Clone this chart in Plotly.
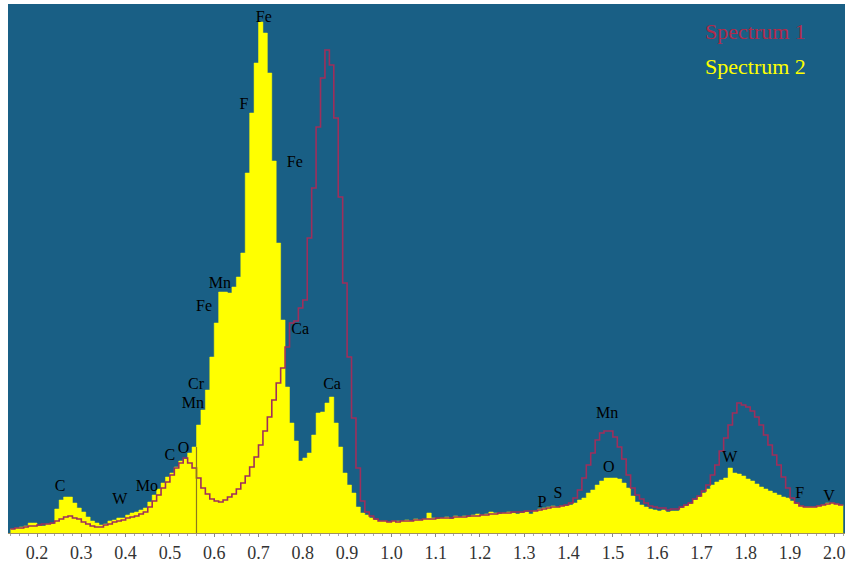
import plotly.graph_objects as go

# Bin left edges (keV), bin width 0.01
bin_start = 0.14
bin_width = 0.01

spectrum2 = [
    4, 5, 6, 7, 10, 10, 7, 7, 9, 9,            # 0.14-0.23
    24, 33, 36, 36, 30, 25, 21, 16, 12, 10,    # 0.24-0.33
    8, 9, 12, 13, 15, 15, 18, 20, 21, 23,      # 0.34-0.43
    25, 31, 38, 44, 50, 56, 60, 66, 72, 74,    # 0.44-0.53
    80, 86, 108, 123, 143, 176, 210, 241, 241, 240,  # 0.54-0.63
    246, 256, 280, 360, 420, 470, 511, 500, 460, 372,  # 0.64-0.73
    290, 213, 146, 110, 92, 72, 75, 80, 98, 120,  # 0.74-0.83
    121, 130, 136, 110, 86, 60, 48, 40, 26, 20,   # 0.84-0.93
    18, 15, 13, 12, 12, 11, 12, 12, 12, 13,       # 0.94-1.03
    12, 14, 13, 14, 20, 15, 14, 15, 16, 14,       # 1.04-1.13
    17, 16, 17, 16, 18, 19, 18, 19, 21, 20,       # 1.14-1.23
    19, 20, 21, 20, 19, 20, 21, 19, 22, 24,       # 1.24-1.33
    25, 26, 27, 26, 27, 27, 28, 30, 33, 35,       # 1.34-1.43
    40, 43, 48, 52, 55, 55, 55, 54, 50, 45,       # 1.44-1.53
    37, 31, 28, 26, 24, 23, 22, 23, 21, 22,       # 1.54-1.63
    22, 25, 27, 29, 33, 36, 40, 44, 48, 51,       # 1.64-1.73
    53, 55, 65, 60, 59, 57, 54, 52, 49, 46,       # 1.74-1.83
    44, 42, 40, 38, 36, 35, 32, 29, 27, 26,       # 1.84-1.93
    26, 26, 27, 28, 30, 30, 29, 28,               # 1.94-2.01
]

spectrum1 = [
    4, 5, 5, 6, 7, 7, 8, 9, 9, 10,             # 0.14-0.23
    12, 14, 16, 17, 15, 14, 11, 9, 7, 6,       # 0.24-0.33
    6, 8, 9, 11, 12, 13, 15, 16, 17, 19,       # 0.34-0.43
    21, 26, 32, 38, 45, 51, 58, 65, 70, 75,    # 0.44-0.53
    70, 65, 55, 45, 39, 34, 32, 31, 33, 36,    # 0.54-0.63
    39, 44, 50, 57, 66, 76, 88, 102, 116, 133, # 0.64-0.73
    150, 165, 186, 210, 212, 225, 233, 295, 345, 406,  # 0.74-0.83
    455, 483, 468, 415, 336, 250, 176, 115, 65, 32,    # 0.84-0.93
    21, 17, 14, 12, 12, 11, 12, 11, 12, 12,       # 0.94-1.03
    12, 13, 13, 14, 14, 14, 15, 15, 15, 15,       # 1.04-1.13
    16, 16, 16, 17, 17, 17, 18, 18, 19, 19,       # 1.14-1.23
    20, 20, 20, 21, 21, 21, 22, 22, 22, 23,       # 1.24-1.33
    24, 25, 26, 26, 27, 28, 30, 35, 43, 55,       # 1.34-1.43
    68, 80, 93, 100, 102, 102, 96, 86, 74, 58,    # 1.44-1.53
    45, 38, 34, 30, 27, 26, 25, 25, 23, 24,       # 1.54-1.63
    24, 26, 28, 30, 34, 37, 42, 48, 58, 68,       # 1.64-1.73
    82, 95, 108, 120, 130, 128, 126, 122, 116, 108,  # 1.74-1.83
    98, 88, 78, 68, 56, 45, 35, 30, 27, 26,       # 1.84-1.93
    26, 26, 27, 28, 29, 30, 29, 28,               # 1.94-2.01
]

# Element labels: (text, energy keV, height in counts)
label_text = ["C", "W", "Mo", "C", "O", "Mn", "Cr", "Fe", "Mn", "F", "Fe", "Fe",
              "Ca", "Ca", "P", "S", "Mn", "O", "W", "F", "V"]
label_energy = [0.252, 0.387, 0.448, 0.500, 0.531, 0.552, 0.559, 0.577, 0.613, 0.667,
                0.712, 0.782, 0.794, 0.866, 1.340, 1.376, 1.487, 1.491, 1.764, 1.922, 1.988]
label_height = [46, 33, 46, 77, 84, 129, 148, 226, 249, 428, 515, 370,
                203, 148, 30, 39, 119, 65, 75, 39, 36]

marker_energy = [0.56]
marker_height = [86]

tick_values = [round(0.2 + 0.1 * i, 1) for i in range(19)]
tick_labels = [f"{v:.1f}" for v in tick_values]

legend_names = ["Spectrum 1", "Spectrum 2"]

n = len(spectrum2)
edges = [round(bin_start + bin_width * i, 3) for i in range(n + 1)]

BG = "#195f85"
YELLOW = "#ffff00"
RED = "#9e2f5b"
SERIF = "Liberation Serif"

fig = go.Figure()

fig.add_trace(go.Scatter(
    x=edges, y=spectrum2 + [spectrum2[-1]],
    mode="lines", line=dict(shape="hv", color=YELLOW, width=0.5),
    fill="tozeroy", fillcolor=YELLOW, name=legend_names[1], showlegend=False,
))

fig.add_trace(go.Scatter(
    x=edges, y=spectrum1 + [spectrum1[-1]],
    mode="lines", line=dict(shape="hv", color=RED, width=1.6),
    name=legend_names[0], showlegend=False,
))

fig.add_trace(go.Scatter(
    x=[marker_energy[0], marker_energy[0]], y=[0, marker_height[0]],
    mode="lines", line=dict(color="#8c7a1c", width=1.2), showlegend=False,
))

fig.add_trace(go.Scatter(
    x=label_energy, y=label_height, mode="text", text=label_text,
    textposition="middle center",
    textfont=dict(family=SERIF, size=16, color="#000000"), showlegend=False,
))

fig.add_annotation(x=0.956, y=0.948, xref="paper", yref="paper", text=legend_names[0],
                   showarrow=False, xanchor="right", yanchor="middle",
                   font=dict(family=SERIF, size=22, color="#b02a4a"))
fig.add_annotation(x=0.956, y=0.882, xref="paper", yref="paper", text=legend_names[1],
                   showarrow=False, xanchor="right", yanchor="middle",
                   font=dict(family=SERIF, size=22, color=YELLOW))

fig.update_layout(
    width=851, height=568,
    margin=dict(l=8, r=6, t=4, b=35),
    paper_bgcolor="white", plot_bgcolor=BG,
    xaxis=dict(range=[0.1345, 2.024], tickvals=tick_values, ticktext=tick_labels,
               showgrid=False, zeroline=False, showline=True, linecolor="#a09060",
               linewidth=1, ticks="outside", ticklen=3, tickcolor="#888888",
               minor=dict(ticks="outside", ticklen=2, dtick=0.02, tickcolor="#aaaaaa",
                          showgrid=False),
               tickfont=dict(family=SERIF, size=18, color="#333333")),
    yaxis=dict(range=[0, 529], showticklabels=False, showgrid=False, zeroline=False,
               showline=False, ticks=""),
    showlegend=False,
)

fig.write_html("out.html", config={"displayModeBar": False},
               post_script="document.body.style.margin='0';document.body.style.overflow='hidden';")
